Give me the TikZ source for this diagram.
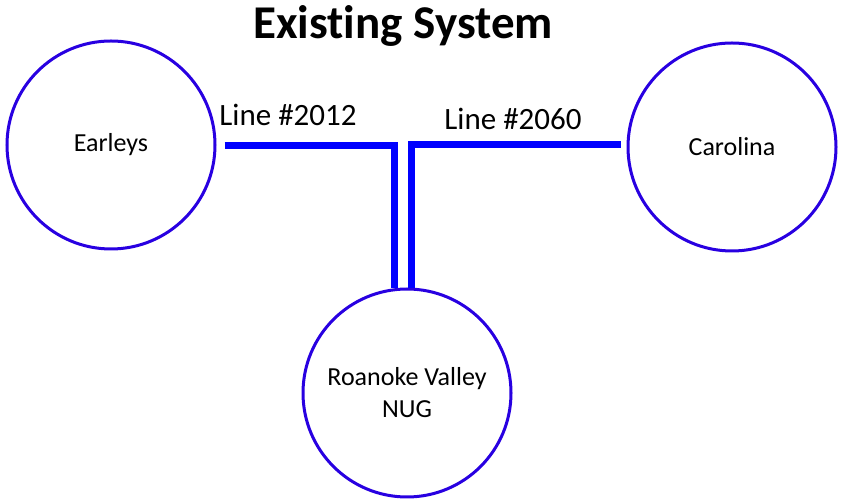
\documentclass[tikz,border=0pt]{standalone}
\usepackage{fontspec}
\setmainfont{Carlito}[Ligatures=NoCommon]
\definecolor{ringblue}{RGB}{40,0,225}
\definecolor{lineblue}{RGB}{0,0,255}
\tikzset{
  station/.style={circle, draw=ringblue, line width=3pt, minimum size=208pt, inner sep=0pt, align=center, font=\fontsize{26}{32}\selectfont},
  feeder/.style={draw=lineblue, line width=7pt, line join=miter},
  linelabel/.style={anchor=base, inner sep=0pt, font=\fontsize{31}{36}\selectfont},
}
\begin{document}
\begin{tikzpicture}[x=1pt,y=1pt]
\useasboundingbox (0,0) rectangle (846,500);
\node[anchor=base, inner sep=0pt, font=\fontsize{47}{56}\selectfont\bfseries] (title) at (403,461) {Existing System};
\node[station] (e) at (111,355) {Earleys};
\node[station] (c) at (732,353) {Carolina};
\node[station] (r) at (407,107) {Roanoke Valley\\NUG};
\node[linelabel] (l1) at (288,374) {Line \#2012};
\node[linelabel] (l2) at (513,370) {Line \#2060};
\draw[feeder] ([xshift=8pt,yshift=-1pt]e.east) -| ([xshift=-12.5pt,yshift=-1pt]r.north);
\draw[feeder] ([xshift=-6pt,yshift=2pt]c.west) -| ([xshift=4.5pt,yshift=-1pt]r.north);
\end{tikzpicture}
\end{document}
